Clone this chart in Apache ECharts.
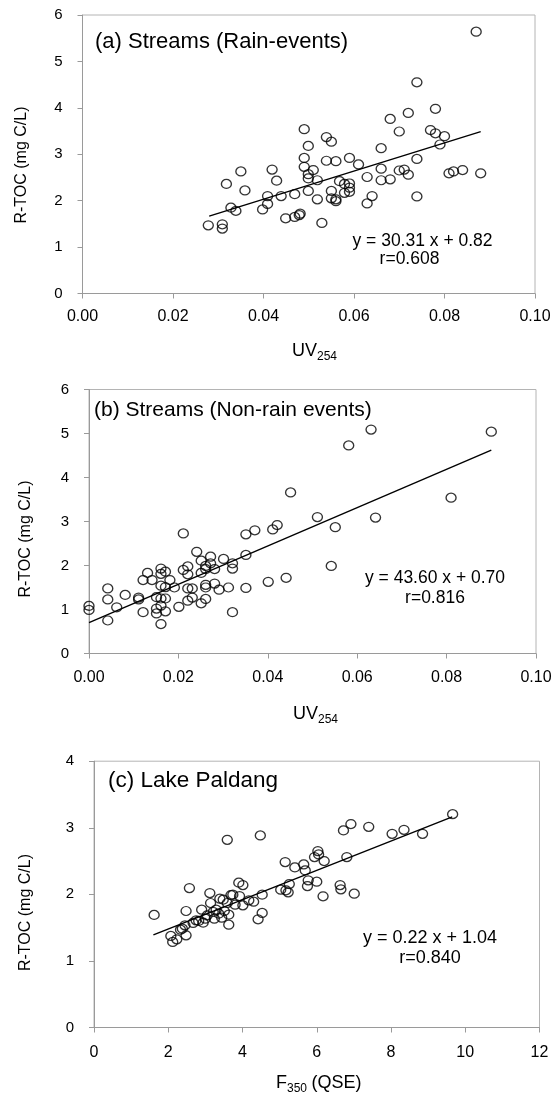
<!DOCTYPE html>
<html>
<head>
<meta charset="utf-8">
<script src="https://cdn.jsdelivr.net/npm/echarts@6/dist/echarts.min.js"></script>
<style>
  html, body { margin: 0; padding: 0; background: #fff; }
  #chart { width: 560px; height: 1095px; }
</style>
</head>
<body>
<div id="chart"></div>
<script>
// (a) Streams, rain events: UV254 vs R-TOC
const rainUv = [0.0278, 0.0309, 0.0309, 0.0318, 0.0328, 0.0339, 0.035, 0.0359, 0.0398, 0.0409, 0.0409, 0.0419,
  0.0429, 0.0439, 0.0449, 0.0469, 0.0469, 0.0479, 0.0481, 0.049, 0.049, 0.049, 0.0499, 0.0499, 0.0499, 0.0499,
  0.051, 0.0519, 0.0519, 0.0529, 0.0539, 0.0539, 0.055, 0.055, 0.055, 0.056, 0.056, 0.056, 0.0568, 0.0579,
  0.0579, 0.059, 0.059, 0.059, 0.059, 0.061, 0.0629, 0.0629, 0.064, 0.066, 0.066, 0.066, 0.068, 0.068, 0.07,
  0.07, 0.0711, 0.072, 0.072, 0.0739, 0.0739, 0.0739, 0.0769, 0.078, 0.078, 0.079, 0.08, 0.081, 0.082, 0.084,
  0.087, 0.088];
const rainToc = [1.47, 1.49, 1.40, 2.36, 1.85, 1.78, 2.63, 2.22, 1.81, 2.10, 1.93, 2.67,
  2.43, 2.10, 1.62, 2.14, 1.65, 1.69, 1.72, 3.54, 2.92, 2.73, 3.18, 2.57, 2.48, 2.21,
  2.66, 2.44, 2.03, 1.52, 3.37, 2.86, 3.27, 2.21, 2.05, 2.85, 2.03, 1.99, 2.42, 2.36,
  2.17, 2.92, 2.37, 2.28, 2.19, 2.78, 2.51, 1.94, 2.10, 3.13, 2.69, 2.44, 3.76, 2.46, 3.49,
  2.65, 2.67, 3.89, 2.56, 4.55, 2.90, 2.09, 3.52, 3.98, 3.45, 3.21, 3.39, 2.59, 2.63, 2.66,
  5.64, 2.59];

// (b) Streams, non-rain events
const dryUv = [0.0, 0.0, 0.0042, 0.0042, 0.0042, 0.0062, 0.0081, 0.0111, 0.0111, 0.0121, 0.0121, 0.0131,
  0.0141, 0.0151, 0.0151, 0.0151, 0.0161, 0.0161, 0.0161, 0.0161, 0.0161, 0.0161, 0.0171, 0.0171, 0.0171,
  0.0171, 0.0181, 0.0191, 0.0201, 0.0211, 0.0211, 0.0221, 0.0221, 0.0221, 0.0221, 0.0231, 0.0231, 0.0241,
  0.0251, 0.0251, 0.0251, 0.0261, 0.0261, 0.0261, 0.0261, 0.0261, 0.0272, 0.0272, 0.0281, 0.0281, 0.0291,
  0.0301, 0.0312, 0.0321, 0.0321, 0.0321, 0.0351, 0.0351, 0.0351, 0.0371, 0.0401, 0.0411, 0.0421, 0.0441,
  0.0451, 0.0511, 0.0542, 0.0551, 0.0581, 0.0631, 0.0641, 0.081, 0.090];
const dryToc = [1.08, 0.99, 1.48, 1.23, 0.75, 1.05, 1.33, 1.27, 1.23, 1.67, 0.94, 1.83,
  1.67, 1.28, 1.02, 0.91, 1.93, 1.81, 1.54, 1.25, 1.09, 0.67, 1.86, 1.51, 1.25,
  0.96, 1.67, 1.50, 1.06, 2.73, 1.90, 1.98, 1.80, 1.48, 1.20, 1.48, 1.27, 2.31,
  2.11, 1.83, 1.14, 1.99, 1.92, 1.56, 1.50, 1.24, 2.20, 2.05, 1.92, 1.59, 1.45,
  2.15, 1.50, 2.05, 1.93, 0.94, 2.71, 2.24, 1.49, 2.80, 1.63, 2.82, 2.92, 1.72,
  3.66, 3.10, 1.99, 2.87, 4.73, 5.09, 3.09, 3.54, 5.04];

// (c) Lake Paldang: F350 vs R-TOC
const lakeF = [1.62, 2.07, 2.12, 2.23, 2.33, 2.38, 2.45, 2.48, 2.48, 2.57, 2.67, 2.75, 2.82, 2.90, 2.94,
  3.00, 3.05, 3.12, 3.14, 3.21, 3.24, 3.29, 3.36, 3.39, 3.44, 3.48, 3.51, 3.59, 3.59, 3.63, 3.63, 3.69,
  3.74, 3.80, 3.90, 3.92, 4.01, 4.01, 4.17, 4.30, 4.42, 4.48, 4.53, 4.53, 5.03, 5.15, 5.17, 5.23, 5.26,
  5.41, 5.65, 5.69, 5.75, 5.77, 5.94, 6.00, 6.03, 6.05, 6.17, 6.20, 6.63, 6.65, 6.72, 6.81, 6.92, 7.01,
  7.40, 8.03, 8.35, 8.85, 9.66];
const lakeToc = [1.69, 1.375, 1.285, 1.325, 1.47, 1.485, 1.535, 1.75, 1.385, 2.095, 1.57, 1.61, 1.60, 1.77, 1.575,
  1.635, 1.685, 2.02, 1.87, 1.735, 1.635, 1.77, 1.71, 1.935, 1.65, 1.92, 1.75, 2.82, 1.87, 1.695, 1.545, 1.99,
  1.995, 1.845, 2.175, 1.975, 2.14, 1.835, 1.91, 1.89, 1.625, 2.885, 1.995, 1.72, 2.07, 2.485, 2.06, 2.03, 2.155,
  2.405, 2.45, 2.36, 2.125, 2.21, 2.56, 2.19, 2.65, 2.60, 1.97, 2.50, 2.14, 2.075, 2.96, 2.56, 3.055, 2.01,
  3.015, 2.91, 2.97, 2.91, 3.205];

// regression lines shown in each panel: [slope, intercept], drawn over [xFrom, xTo]
const rainFit = [30.31, 0.82];
const rainFitRange = [0.028, 0.088];
const dryFit = [43.60, 0.70];
const dryFitRange = [0.0, 0.090];
const lakeFit = [0.22, 1.04];
const lakeFitRange = [1.6, 9.65];

const FONT = 'Liberation Sans, Arial, sans-serif';
const ring = 'path://M0,50A50,50,0,1,1,100,50A50,50,0,1,1,0,50Z';

const zip = (xs, ys) => xs.map((x, i) => [x, ys[i]]);
const fitLine = (fit, range) => range.map(x => [x, fit[0] * x + fit[1]]);

const grids = [
  { left: 82.5, top: 15, width: 452.5, height: 278.5 },
  { left: 89, top: 389.5, width: 447, height: 264 },
  { left: 94, top: 761.2, width: 445.5, height: 266.3 }
].map(g => ({ ...g, show: true, borderColor: '#b4b4b4', borderWidth: 1, backgroundColor: 'transparent' }));

const axisCommon = {
  axisLine: { show: true, onZero: false, lineStyle: { color: '#9a9a9a', width: 1 } },
  axisTick: { show: true, inside: false, length: 5, lineStyle: { color: '#9a9a9a' } },
  splitLine: { show: false }
};

const xAxes = [
  { min: 0, max: 0.1, interval: 0.02, margin: 15, dec: 2 },
  { min: 0, max: 0.1, interval: 0.02, margin: 16, dec: 2 },
  { min: 0, max: 12, interval: 2, margin: 17, dec: 0 }
].map((a, i) => ({
  type: 'value', gridIndex: i, min: a.min, max: a.max, interval: a.interval,
  ...axisCommon,
  axisLabel: {
    color: '#000', fontFamily: FONT, fontSize: 16, margin: a.margin,
    formatter: v => v.toFixed(a.dec)
  }
}));

const yAxes = [6, 6, 4].map((max, i) => ({
  type: 'value', gridIndex: i, min: 0, max: max, interval: 1,
  ...axisCommon,
  axisLabel: { color: '#000', fontFamily: FONT, fontSize: 15, margin: 20 }
}));

const scatter = (data, i) => ({
  type: 'scatter', xAxisIndex: i, yAxisIndex: i, data: data,
  symbol: ring, symbolSize: [10, 9],
  itemStyle: { color: 'rgba(0,0,0,0)', borderColor: '#000', borderWidth: 1.3 },
  emphasis: { disabled: true }, z: 3
});
const line = (data, i) => ({
  type: 'line', xAxisIndex: i, yAxisIndex: i, data: data,
  symbol: 'none', silent: true, lineStyle: { color: '#000', width: 1.4 }, z: 2
});

const txt = (text, x, y, size, align, extra) => ({
  type: 'text', x: x, y: y, silent: true, ...(extra || {}),
  style: {
    text: text, fill: '#000', font: size + 'px ' + FONT,
    align: align, textAlign: align, verticalAlign: 'middle', textVerticalAlign: 'middle'
  }
});

const graphics = [
  // panel titles
  txt('(a) Streams (Rain-events)', 95, 41.5, 22, 'left'),
  txt('(b) Streams (Non-rain events)', 94, 410, 21, 'left'),
  txt('(c) Lake Paldang', 108, 781, 22.5, 'left'),
  // regression equations
  txt('y = 30.31 x + 0.82', 422.5, 241, 17.5, 'center'),
  txt('r=0.608', 409.5, 259.5, 17.5, 'center'),
  txt('y = 43.60 x + 0.70', 435, 578, 17.5, 'center'),
  txt('r=0.816', 435, 598, 17.5, 'center'),
  txt('y = 0.22 x + 1.04', 430, 938, 18, 'center'),
  txt('r=0.840', 430, 958.5, 18, 'center'),
  // y axis names
  txt('R-TOC (mg C/L)', 22, 165, 16, 'center', { rotation: Math.PI / 2 }),
  txt('R-TOC (mg C/L)', 26, 539, 16, 'center', { rotation: Math.PI / 2 }),
  txt('R-TOC (mg C/L)', 26, 912.5, 16, 'center', { rotation: Math.PI / 2 }),
  // x axis names with subscripts
  txt('UV', 292, 351, 18, 'left'),
  txt('254', 317, 356.5, 12, 'left'),
  txt('UV', 293, 714.5, 18, 'left'),
  txt('254', 318, 720, 12, 'left'),
  txt('F', 276, 1083.3, 18, 'left'),
  txt('350', 287, 1089, 12, 'left'),
  txt('(QSE)', 311.5, 1083.3, 18, 'left')
];

const chart = echarts.init(document.getElementById('chart'), null, { renderer: 'canvas' });
chart.setOption({
  animation: false,
  backgroundColor: '#fff',
  grid: grids,
  xAxis: xAxes,
  yAxis: yAxes,
  series: [
    scatter(zip(rainUv, rainToc), 0),
    line(fitLine(rainFit, rainFitRange), 0),
    scatter(zip(dryUv, dryToc), 1),
    line(fitLine(dryFit, dryFitRange), 1),
    scatter(zip(lakeF, lakeToc), 2),
    line(fitLine(lakeFit, lakeFitRange), 2)
  ],
  graphic: graphics
});
</script>
</body>
</html>
